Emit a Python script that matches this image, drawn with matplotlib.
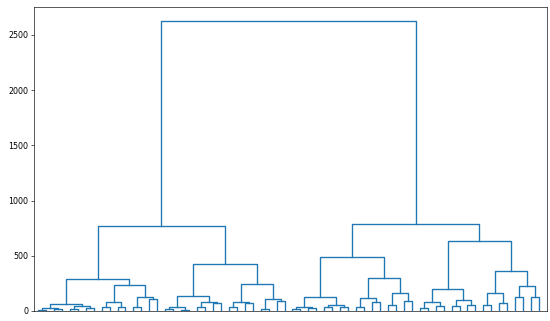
import matplotlib
matplotlib.use("Agg")
import matplotlib.pyplot as plt

# merge heights for each level of the tree, read left to right
pair_h = [12, 20, 15, 28, 33, 33, 33, 106, 15, 12, 39, 69, 39, 69, 21, 95,
          18, 30, 33, 39, 33, 84, 54, 93, 27, 45, 45, 51, 51, 75, 124, 130]
quad_h = [30, 48, 82, 124, 39, 84, 82, 105, 39, 51, 115, 166, 84, 100, 166, 226]
oct_h = [66, 233, 136, 247, 130, 296, 199, 365]
sixteen_h = [290, 425, 492, 637]
half_h = [773, 791]
root_h = [2622]

levels = [pair_h, quad_h, oct_h, sixteen_h, half_h, root_h]
n_leaves = 2 * len(pair_h)

DPI = 57.2
fig = plt.figure(figsize=(550 / DPI, 321 / DPI), dpi=DPI)
ax = fig.add_axes([34 / 550, 10 / 321, 513 / 550, 304 / 321])

# leaves sit at 5, 15, 25, ... like scipy's dendrogram
xs = [5 + 10 * i for i in range(n_leaves)]
ys = [0.0] * n_leaves
for heights in levels:
    new_x, new_y = [], []
    for k, h in enumerate(heights):
        x1, x2 = xs[2 * k], xs[2 * k + 1]
        y1, y2 = ys[2 * k], ys[2 * k + 1]
        ax.plot([x1, x1, x2, x2], [y1, h, h, y2], color='#1f77b4', lw=1.7)
        new_x.append((x1 + x2) / 2)
        new_y.append(h)
    xs, ys = new_x, new_y

ax.set_xlim(0, 10 * n_leaves + 5)
ax.set_ylim(0, max(root_h) * 1.05)
ax.set_xticks([])
ax.set_yticks([0, 500, 1000, 1500, 2000, 2500])

fig.savefig("out.png", dpi=DPI)
